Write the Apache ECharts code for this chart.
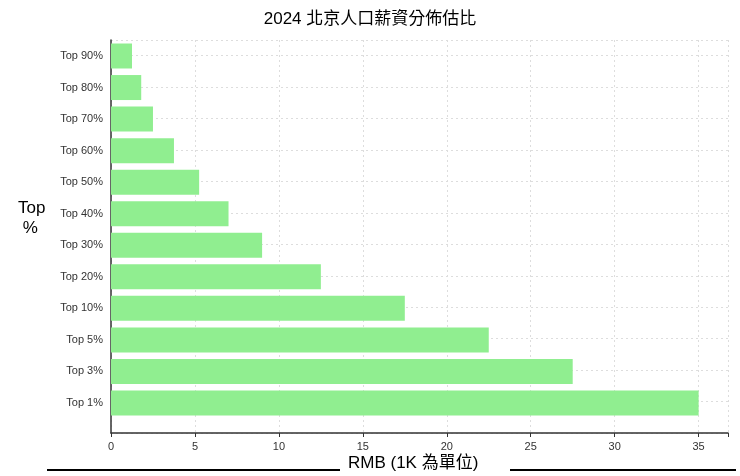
<!DOCTYPE html>
<html>
<head>
<meta charset="utf-8">
<script src="https://cdn.jsdelivr.net/npm/echarts@6/dist/echarts.min.js"></script>
<style>html,body{margin:0;padding:0;background:#fff}#main{width:740px;height:476px}</style>
</head>
<body>
<div id="main"></div>
<script>
// 薪資分佈
var categories = ['Top 1%', 'Top 3%', 'Top 5%', 'Top 10%', 'Top 20%', 'Top 30%', 'Top 40%', 'Top 50%', 'Top 60%', 'Top 70%', 'Top 80%', 'Top 90%'];
var salary = [35, 27.5, 22.5, 17.5, 12.5, 9, 7, 5.25, 3.75, 2.5, 1.8, 1.25];
var xTicks = [0, 5, 10, 15, 20, 25, 30, 35];

var font = 'Liberation Sans, DejaVu Sans, Noto Sans CJK TC, sans-serif';

var option = {
    animation: false,
    title: {
        text: '2024 北京人口薪資分佈估比',
        left: 'center',
        top: 6,
        textStyle: {fontSize: 17, fontWeight: 'normal', color: '#000', fontFamily: font}
    },
    grid: [
        {left: 111, right: 12, top: 56, bottom: 73},
        {left: 111, right: 12, top: 40, bottom: 43}
    ],
    xAxis: [
        {gridIndex: 0, type: 'value', min: 0, max: 36.75, show: false},
        {
            gridIndex: 1, type: 'value', min: 0, max: 36.75, interval: 5,
            axisLine: {show: true, onZero: false, lineStyle: {color: '#333', width: 1.5}},
            axisTick: {show: true, length: 4, lineStyle: {color: '#333'}},
            axisLabel: {color: '#333', fontSize: 11, fontFamily: font,
                formatter: function (v) { return xTicks.indexOf(v) >= 0 ? v : ''; }},
            splitLine: {show: true, lineStyle: {color: '#ddd', type: [2, 3]}}
        }
    ],
    yAxis: [
        {
            gridIndex: 0, type: 'category', boundaryGap: false, data: categories,
            axisLine: {show: false},
            axisTick: {show: false},
            axisLabel: {color: '#333', fontSize: 11, fontFamily: font, margin: 8},
            splitLine: {show: false}
        },
        {
            gridIndex: 1, type: 'value', min: -1, max: 11.5, interval: 1,
            axisLine: {show: true, onZero: false, lineStyle: {color: '#333', width: 1.5}},
            axisTick: {show: false},
            axisLabel: {show: false},
            splitLine: {show: true, lineStyle: {color: '#ddd', type: [2, 3]}}
        }
    ],
    series: [
        {
            type: 'bar',
            xAxisIndex: 0,
            yAxisIndex: 0,
            data: salary,
            barWidth: 25,
            z: 5,
            itemStyle: {color: '#90ee90'}
        }
    ],
    graphic: [
        {type: 'text', left: 18, top: 198, style: {text: 'Top\n %', fill: '#000', font: '17px ' + font, lineHeight: 20}},
        {type: 'text', left: 348, top: 455, style: {text: 'RMB (1K 為單位)', fill: '#000', font: '17px ' + font}},
        {type: 'line', shape: {x1: 47, y1: 470, x2: 340, y2: 470}, style: {stroke: '#000', lineWidth: 2}},
        {type: 'line', shape: {x1: 510, y1: 470, x2: 736, y2: 470}, style: {stroke: '#000', lineWidth: 2}}
    ]
};

var chart = echarts.init(document.getElementById('main'));
chart.setOption(option);
</script>
</body>
</html>
